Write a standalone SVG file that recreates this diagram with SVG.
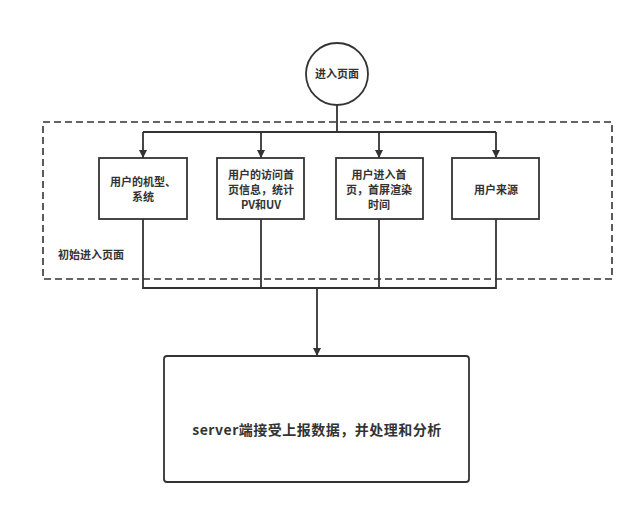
<svg xmlns="http://www.w3.org/2000/svg" width="640" height="511" viewBox="0 0 640 511">
<defs>
<marker id="arr" viewBox="0 0 10 10" refX="10" refY="5" markerWidth="8" markerHeight="8" markerUnits="userSpaceOnUse" orient="auto">
<path d="M0,0 L10,5 L0,10 z" fill="#333"/>
</marker>
<style>
.n{fill:#fff;stroke:#333;stroke-width:1.8}
.t{font-family:"Noto Sans CJK SC","Liberation Sans",sans-serif;font-weight:bold;fill:#333;text-anchor:middle;font-size:11px}
.c{fill:none;stroke:#333;stroke-width:1.8}
</style>
</defs>
<rect width="640" height="511" fill="#fff"/>
<g id="group">
<rect x="43" y="122" width="569" height="157" fill="none" stroke="#333" stroke-width="1.6" stroke-dasharray="7,4"/>
<text class="t" x="58" y="259" style="text-anchor:start">初始进入页面</text>
</g>
<g id="connectors">
<path class="c" d="M337,105 V132 M143,132 H496"/>
<path class="c" d="M143,132 V158" marker-end="url(#arr)"/>
<path class="c" d="M261,132 V158" marker-end="url(#arr)"/>
<path class="c" d="M379,132 V158" marker-end="url(#arr)"/>
<path class="c" d="M496,132 V158" marker-end="url(#arr)"/>
<path class="c" d="M143,219 V288 H496 V219 M261,219 V288 M379,219 V288"/>
<path class="c" d="M317,288 V356" marker-end="url(#arr)"/>
</g>
<g id="start">
<circle class="n" cx="337" cy="74" r="31"/>
<text class="t" x="337" y="78">进入页面</text>
</g>
<g id="n1">
<rect class="n" x="99" y="158" width="88" height="61"/>
<text class="t" x="143" y="186">用户的机型、</text>
<text class="t" x="143" y="201">系统</text>
</g>
<g id="n2">
<rect class="n" x="217" y="158" width="87" height="61"/>
<text class="t" x="261" y="179">用户的访问首</text>
<text class="t" x="261" y="194">页信息，统计</text>
<text class="t" x="261" y="209">PV和UV</text>
</g>
<g id="n3">
<rect class="n" x="336" y="158" width="87" height="61"/>
<text class="t" x="379" y="179">用户进入首</text>
<text class="t" x="379" y="194">页，首屏渲染</text>
<text class="t" x="379" y="209">时间</text>
</g>
<g id="n4">
<rect class="n" x="452" y="158" width="87" height="61"/>
<text class="t" x="496" y="194">用户来源</text>
</g>
<g id="server">
<rect class="n" x="164" y="356" width="305" height="126" rx="3"/>
<text class="t" x="317" y="435" style="font-size:14px;letter-spacing:0.5px">server端接受上报数据，并处理和分析</text>
</g>
</svg>
